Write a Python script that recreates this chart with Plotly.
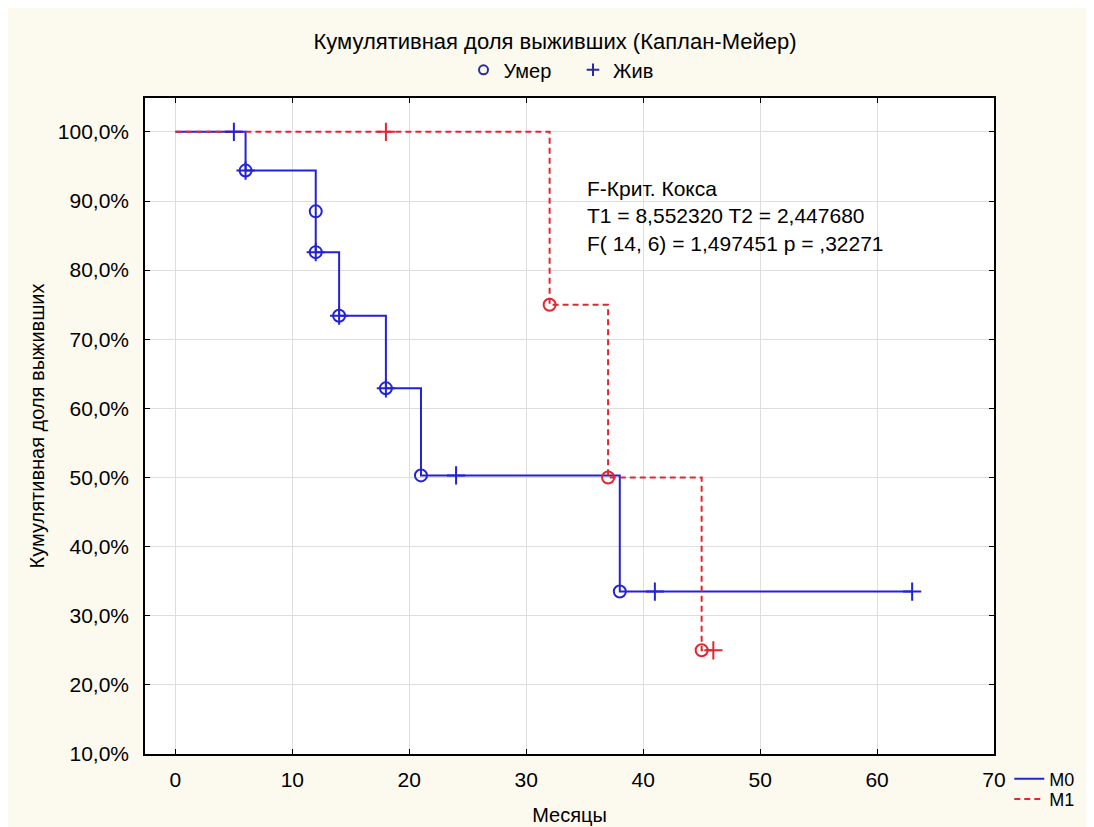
import plotly.graph_objects as go

# ---- data ----
m0_step_x = [0, 6, 12, 14, 18, 21, 38, 63]
m0_step_y = [1.0, 0.944, 0.826, 0.734, 0.629, 0.503, 0.335, 0.335]
m0_death_x = [6, 12, 12, 14, 18, 21, 38]
m0_death_y = [0.944, 0.885, 0.826, 0.734, 0.629, 0.503, 0.335]
m0_cens_x = [5, 6, 12, 14, 18, 24, 41, 63]
m0_cens_y = [1.0, 0.944, 0.826, 0.734, 0.629, 0.503, 0.335, 0.335]

m1_step_x = [0, 32, 37, 45, 46]
m1_step_y = [1.0, 0.75, 0.50, 0.25, 0.25]
m1_death_x = [32, 37, 45]
m1_death_y = [0.75, 0.50, 0.25]
m1_cens_x = [18, 46]
m1_cens_y = [1.0, 0.25]

x_ticks = [0, 10, 20, 30, 40, 50, 60, 70]
y_ticks = [0.1, 0.2, 0.3, 0.4, 0.5, 0.6, 0.7, 0.8, 0.9, 1.0]

stat_lines = ["F-Крит. Кокса", "T1 = 8,552320 T2 = 2,447680", "F( 14, 6) = 1,497451 p = ,32271"]

BLUE = "#2323D6"
RED = "#E0262E"
NAVY = "#2A2AA8"
FONT = "Liberation Sans, Arial, sans-serif"

fig = go.Figure()

# step lines
fig.add_trace(go.Scatter(x=m0_step_x, y=m0_step_y, mode="lines", line_shape="hv",
                         line=dict(color=BLUE, width=2), name="M0", legend="legend"))
fig.add_trace(go.Scatter(x=m1_step_x, y=m1_step_y, mode="lines", line_shape="hv",
                         line=dict(color=RED, width=2, dash="6px,4px"), name="M1", legend="legend3"))

# markers
def deaths(x, y, c):
    return go.Scatter(x=x, y=y, mode="markers", showlegend=False,
                      marker=dict(symbol="circle-open", size=12, color=c, line=dict(width=2, color=c)))

def cens(x, y, c):
    return go.Scatter(x=x, y=y, mode="markers", showlegend=False,
                      marker=dict(symbol="cross-thin-open", size=13, color=c, line=dict(width=2, color=c)))

fig.add_trace(deaths(m0_death_x, m0_death_y, BLUE))
fig.add_trace(cens(m0_cens_x, m0_cens_y, BLUE))
fig.add_trace(deaths(m1_death_x, m1_death_y, RED))
fig.add_trace(cens(m1_cens_x, m1_cens_y, RED))

# marker legend (top)
fig.add_trace(go.Scatter(x=[None], y=[None], mode="markers", name="Умер&nbsp;&nbsp;&nbsp;", legend="legend2",
                         marker=dict(symbol="circle-open", size=9, color=NAVY, line=dict(width=2, color=NAVY))))
fig.add_trace(go.Scatter(x=[None], y=[None], mode="markers", name="Жив", legend="legend2",
                         marker=dict(symbol="cross-thin-open", size=9, color=NAVY, line=dict(width=2, color=NAVY))))

fig.add_annotation(x=35, y=0.937, xref="x", yref="y", xanchor="left", yanchor="top",
                   text="<br>".join(stat_lines), showarrow=False, align="left",
                   font=dict(family=FONT, size=21, color="black"))

axis_common = dict(showline=True, linecolor="black", linewidth=1.5, mirror="ticks",
                   ticks="inside", ticklen=5, tickcolor="black", tickwidth=1,
                   showgrid=True, gridcolor="#DEDEDE", gridwidth=1, zeroline=False,
                   tickfont=dict(family=FONT, size=21, color="black"))

fig.update_xaxes(range=[-2.6, 70], tickvals=x_ticks, ticklabelstandoff=6,
                 title=dict(text="Месяцы", font=dict(family=FONT, size=20, color="black"), standoff=18),
                 **axis_common)
fig.update_yaxes(range=[0.1, 1.049], tickvals=y_ticks, tickformat=".1%", ticklabelstandoff=10,
                 title=dict(text="Кумулятивная доля выживших", font=dict(family=FONT, size=20, color="black"), standoff=8),
                 **axis_common)

leg_common = dict(bgcolor="rgba(0,0,0,0)", font=dict(family=FONT, size=18, color="black"),
                  itemwidth=30, x=1.018, xanchor="left", yanchor="middle")

fig.update_layout(
    width=1094, height=827,
    margin=dict(l=137, r=108, t=90, b=73),
    paper_bgcolor="#FCF9EF", plot_bgcolor="white",
    separators=", ",
    font=dict(family=FONT, size=20, color="black"),
    title=dict(text="Кумулятивная доля выживших (Каплан-Мейер)", x=0.5, xanchor="center",
               y=0.96, yanchor="middle", font=dict(family=FONT, size=22, color="black")),
    legend=dict(y=-0.038, **leg_common),
    legend3=dict(y=-0.069, **leg_common),
    legend2=dict(orientation="h", x=0.49, xanchor="center", y=1.043, yanchor="middle",
                 bgcolor="rgba(0,0,0,0)", font=dict(family=FONT, size=20, color="black")),
)

fig.write_html("out.html")
